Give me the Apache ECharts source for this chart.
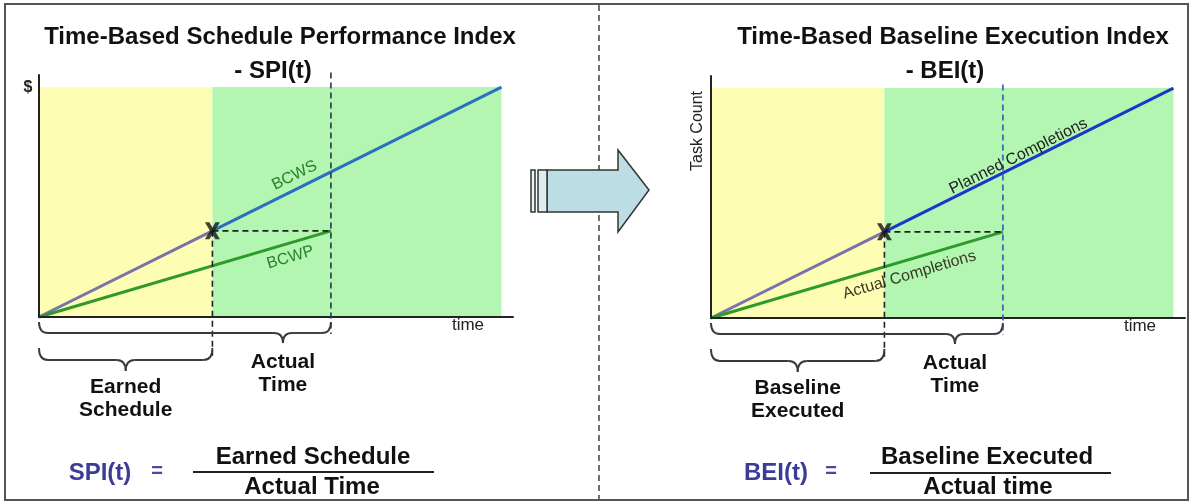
<!DOCTYPE html>
<html>
<head>
<meta charset="utf-8">
<script src="https://cdn.jsdelivr.net/npm/echarts@6/dist/echarts.min.js"></script>
<style>
  html, body { margin: 0; padding: 0; background: #fff; }
  #chart { width: 1194px; height: 504px; }
</style>
</head>
<body>
<div id="chart"></div>
<script>
// ---- values shared by both panels ----
// planned curve: start, earned-schedule point, end of plan
const planTimes = [0, 15, 40];
const planValues = [0, 35.6, 95];
// earned / actual curve up to the actual time
const earnTimes = [0, 25.25];
const earnValues = [0, 35.6];
const earnedSchedule = 15;
const actualTime = 25.25;
const timeMax = 41;
const valueMax = 100;

// ---- text ----
const panelTitles = [
  ['Time-Based Schedule Performance Index', '- SPI(t)'],
  ['Time-Based Baseline Execution Index', '- BEI(t)']
];
const axisNames = ['$', 'Task Count'];
const timeName = 'time';
const curveNames = [['BCWS', 'BCWP'], ['Planned Completions', 'Actual Completions']];
const braceNames = [['Actual\nTime', 'Earned\nSchedule'], ['Actual\nTime', 'Baseline\nExecuted']];
const formulaNames = [
  ['SPI(t)', 'Earned Schedule', 'Actual Time'],
  ['BEI(t)', 'Baseline Executed', 'Actual time']
];

// ---- layout & styling ----
const FONT = '"Liberation Sans", Arial, Helvetica, sans-serif';
const grids = [
  { left: 39, top: 75, width: 474, height: 242 },
  { left: 711, top: 76, width: 474, height: 242 }
];
const phaseColors = ['#fdfdb4', '#b2f6b2'];
const panelStyle = [
  {
    lateColor: '#2a70be', atGuide: '#27344c', atTop: 101,
    tagColors: ['#2b7f2b', '#2b7f2b'], tagFont: '16px ' + FONT,
    tagLayout: [{ t: 22.6, off: -13 }, { t: 21.4, off: 14 }]
  },
  {
    lateColor: '#1c36cc', atGuide: '#2a5cb8', atTop: 96.5,
    tagColors: ['#222222', '#3a3a22'], tagFont: '16px ' + FONT,
    tagLayout: [{ t: 26.9, off: -8 }, { t: 16.8, off: 15 }]
  }
];
// braces under the time axis: span, tip position and pixel drops below the axis
const braceLayout = [
  { from: 0, to: actualTime, tip: 21.1, drop: [5, 16, 26], textGap: 8 },
  { from: 0, to: earnedSchedule, tip: earnedSchedule / 2, drop: [31, 43, 54], textGap: 5 }
];
const guideBottomES = -16;
const guideBottomAT = -7;

const chart = echarts.init(document.getElementById('chart'), null, { renderer: 'canvas' });

const axisLineStyle = { color: '#222', width: 2 };
const xAxes = grids.map((g, i) => ({
  type: 'value', gridIndex: i, min: 0, max: timeMax, z: 4,
  axisLine: { show: true, onZero: true, lineStyle: axisLineStyle },
  axisTick: { show: false }, axisLabel: { show: false }, splitLine: { show: false }
}));
const yAxes = grids.map((g, i) => ({
  type: 'value', gridIndex: i, min: 0, max: valueMax, z: 4,
  axisLine: { show: true, onZero: false, lineStyle: axisLineStyle },
  axisTick: { show: false }, axisLabel: { show: false }, splitLine: { show: false }
}));

function phaseRenderer(params, api) {
  const a = api.coord([api.value(0), 0]);
  const b = api.coord([api.value(1), api.value(2)]);
  return {
    type: 'rect',
    shape: { x: a[0], y: b[1], width: b[0] - a[0], height: a[1] - b[1] },
    style: { fill: phaseColors[params.dataIndex] }
  };
}

function tagRenderer(p) {
  return function (params, api) {
    const k = api.value(0);
    const ts = k === 0 ? planTimes : earnTimes;
    const vs = k === 0 ? planValues : earnValues;
    const n = ts.length - 1;
    const a = api.coord([ts[0], vs[0]]);
    const b = api.coord([ts[n], vs[n]]);
    const ang = Math.atan2(a[1] - b[1], b[0] - a[0]);
    const L = panelStyle[p].tagLayout[k];
    const f = (L.t - ts[0]) / (ts[n] - ts[0]);
    return {
      type: 'group',
      x: a[0] + (b[0] - a[0]) * f,
      y: a[1] + (b[1] - a[1]) * f,
      rotation: ang,
      children: [{
        type: 'text', x: 0, y: L.off,
        style: {
          text: curveNames[p][k], fill: panelStyle[p].tagColors[k], font: panelStyle[p].tagFont,
          textAlign: 'center', textVerticalAlign: 'middle'
        }
      }]
    };
  };
}

function braceRenderer(p) {
  return function (params, api) {
    const k = params.dataIndex;
    const B = braceLayout[k];
    const o = api.coord([B.from, 0]);
    const e = api.coord([B.to, 0]);
    const m = api.coord([B.tip, 0]);
    const x0 = o[0], x1 = e[0], xt = m[0], base = o[1];
    const yTop = base + B.drop[0], yLine = base + B.drop[1], yTip = base + B.drop[2];
    const r = 9;
    const st = () => ({ stroke: '#3a3a3a', lineWidth: 1.9, fill: 'none' });
    const curve = (ax, ay, cx, cy, bx, by) => ({
      type: 'bezierCurve', shape: { x1: ax, y1: ay, cpx1: cx, cpy1: cy, x2: bx, y2: by }, style: st()
    });
    const seg = (ax, ay, bx, by) => ({ type: 'line', shape: { x1: ax, y1: ay, x2: bx, y2: by }, style: st() });
    return {
      type: 'group',
      children: [
        curve(x0, yTop, x0, yLine, x0 + r, yLine),
        seg(x0 + r, yLine, xt - r, yLine),
        curve(xt - r, yLine, xt, yLine, xt, yTip),
        curve(xt, yTip, xt, yLine, xt + r, yLine),
        seg(xt + r, yLine, x1 - r, yLine),
        curve(x1 - r, yLine, x1, yLine, x1, yTop),
        {
          type: 'text', x: xt, y: yTip + B.textGap,
          style: {
            text: braceNames[p][k], font: 'bold 21px ' + FONT, fill: '#111',
            textAlign: 'center', textVerticalAlign: 'top', lineHeight: 23
          }
        }
      ]
    };
  };
}

const crossSymbol = 'path://M0,0L3,0L5,3L7,0L10,0L6.6,5L10,10L7,10L5,7L3,10L0,10L3.4,5Z';

const series = [];
[0, 1].forEach(p => {
  const ax = { xAxisIndex: p, yAxisIndex: p };
  const S = panelStyle[p];
  const lineBase = Object.assign({ type: 'line', showSymbol: false, symbol: 'none', clip: false, silent: true }, ax);
  series.push(Object.assign({
    type: 'custom', name: 'phases', z: 1, silent: true,
    renderItem: phaseRenderer, encode: { x: [0, 1], y: 2 },
    data: [[planTimes[0], earnedSchedule, planValues[2]], [earnedSchedule, planTimes[2], planValues[2]]]
  }, ax));
  series.push(Object.assign({}, lineBase, {
    name: curveNames[p][0] + ' (to ES)', z: 3,
    lineStyle: { color: '#7a72ab', width: 3 },
    data: [[planTimes[0], planValues[0]], [planTimes[1], planValues[1]]]
  }));
  series.push(Object.assign({}, lineBase, {
    name: curveNames[p][0], z: 3,
    lineStyle: { color: S.lateColor, width: 3 },
    data: [[planTimes[1], planValues[1]], [planTimes[2], planValues[2]]]
  }));
  series.push(Object.assign({}, lineBase, {
    name: curveNames[p][1], z: 3,
    lineStyle: { color: '#2e9a2a', width: 3 },
    data: earnTimes.map((t, i) => [t, earnValues[i]])
  }));
  series.push(Object.assign({}, lineBase, {
    name: 'level', z: 4,
    lineStyle: { color: '#222', width: 1.6, type: [6, 4] },
    data: [[earnedSchedule, earnValues[1]], [actualTime, earnValues[1]]]
  }));
  series.push(Object.assign({}, lineBase, {
    name: 'ES guide', z: 4,
    lineStyle: { color: '#222', width: 1.6, type: [6, 4] },
    data: [[earnedSchedule, planValues[1]], [earnedSchedule, guideBottomES]]
  }));
  series.push(Object.assign({}, lineBase, {
    name: 'AT guide', z: 4,
    lineStyle: { color: S.atGuide, width: 1.6, type: [6, 4] },
    data: [[actualTime, S.atTop], [actualTime, guideBottomAT]]
  }));
  series.push(Object.assign({
    type: 'scatter', name: 'ES point', z: 6, silent: true,
    symbol: crossSymbol, symbolSize: [15, 17],
    itemStyle: { color: '#111' },
    data: [[earnedSchedule, planValues[1]]]
  }, ax));
  series.push(Object.assign({
    type: 'custom', name: 'tags', z: 5, silent: true,
    renderItem: tagRenderer(p), data: [[0, 0], [1, 0]]
  }, ax));
  series.push(Object.assign({
    type: 'custom', name: 'braces', z: 5, silent: true,
    renderItem: braceRenderer(p), data: [[0, 0], [1, 0]]
  }, ax));
});

function txt(x, y, s, font, fill, extra) {
  return Object.assign({
    type: 'text', x: x, y: y, silent: true, z: 10,
    style: {
      text: s, font: font, fill: fill,
      textAlign: 'center', textVerticalAlign: 'middle', align: 'center', verticalAlign: 'middle'
    }
  }, extra || {});
}
function hline(x1, x2, y, w, color) {
  return { type: 'line', silent: true, z: 10, shape: { x1: x1, y1: y, x2: x2, y2: y }, style: { stroke: color, lineWidth: w } };
}

const graphics = [
  { type: 'rect', silent: true, z: 0, shape: { x: 5, y: 4, width: 1183, height: 496 },
    style: { fill: 'none', stroke: '#555', lineWidth: 2 } },
  { type: 'line', silent: true, z: 1, shape: { x1: 599, y1: 5, x2: 599, y2: 499 },
    style: { stroke: '#333', lineWidth: 1.4, lineDash: [6, 4] } },
  // transition arrow between panels
  { type: 'polygon', silent: true, z: 5,
    shape: { points: [[547, 170], [618, 170], [618, 150], [649, 190], [618, 232], [618, 212], [547, 212]] },
    style: { fill: '#bcdde4', stroke: '#333', lineWidth: 1.5 } },
  { type: 'rect', silent: true, z: 5, shape: { x: 531, y: 170, width: 4, height: 42 },
    style: { fill: '#eaf5f7', stroke: '#333', lineWidth: 1.5 } },
  { type: 'rect', silent: true, z: 5, shape: { x: 538, y: 170, width: 9, height: 42 },
    style: { fill: '#dcedf0', stroke: '#333', lineWidth: 1.5 } },

  txt(280, 37, panelTitles[0][0], 'bold 24px ' + FONT, '#111'),
  txt(273, 71, panelTitles[0][1], 'bold 24px ' + FONT, '#111'),
  txt(953, 37, panelTitles[1][0], 'bold 24px ' + FONT, '#111'),
  txt(945, 71, panelTitles[1][1], 'bold 24px ' + FONT, '#111'),

  txt(28, 88, axisNames[0], 'bold 16px ' + FONT, '#222'),
  txt(698, 131, axisNames[1], '16px ' + FONT, '#222', { rotation: Math.PI / 2 }),
  txt(468, 325, timeName, '17px ' + FONT, '#222'),
  txt(1140, 326, timeName, '17px ' + FONT, '#222'),

  // SPI(t) formula
  txt(100, 473, formulaNames[0][0], 'bold 24px ' + FONT, '#3c3c96'),
  txt(157, 471, '=', 'bold 20px ' + FONT, '#4a4a96'),
  txt(313, 457, formulaNames[0][1], 'bold 24px ' + FONT, '#111'),
  hline(193, 434, 472, 2, '#222'),
  txt(312, 487, formulaNames[0][2], 'bold 24px ' + FONT, '#111'),

  // BEI(t) formula
  txt(776, 473, formulaNames[1][0], 'bold 24px ' + FONT, '#3c3c96'),
  txt(831, 471, '=', 'bold 20px ' + FONT, '#4a4a96'),
  txt(987, 457, formulaNames[1][1], 'bold 24px ' + FONT, '#111'),
  hline(870, 1111, 473, 2, '#222'),
  txt(988, 487, formulaNames[1][2], 'bold 24px ' + FONT, '#111')
];

chart.setOption({
  animation: false,
  backgroundColor: '#ffffff',
  grid: grids.map(g => Object.assign({ containLabel: false }, g)),
  xAxis: xAxes,
  yAxis: yAxes,
  series: series,
  graphic: { elements: graphics }
});
</script>
</body>
</html>
